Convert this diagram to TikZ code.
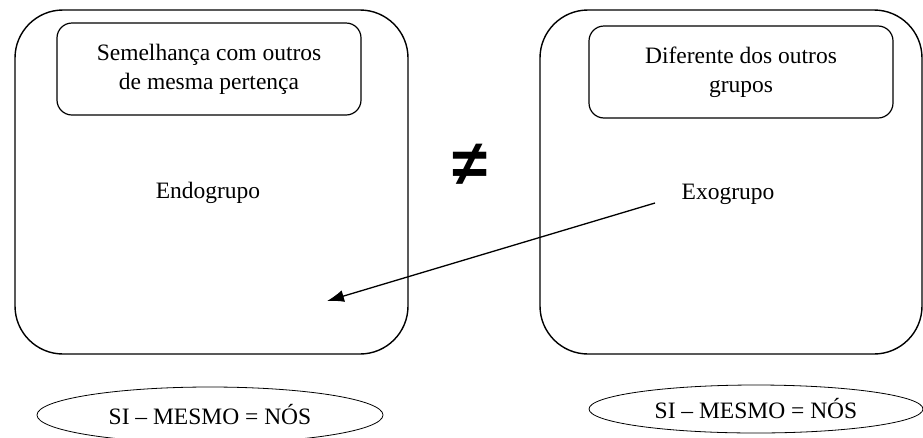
\documentclass[tikz,border=0pt]{standalone}
\usepackage{fontspec}
\setmainfont{Liberation Serif}
\newfontfamily\signfont{Liberation Sans}
\usetikzlibrary{shapes.geometric}
\usetikzlibrary {arrows.meta}

\begin{document}
\begin{tikzpicture}[x=1pt, y=-1pt,
        bigbox/.style={draw, line width=1.4pt, rounded corners=48pt, minimum height=344pt},
        topbox/.style={draw, line width=1.2pt, rounded corners=15pt, minimum width=304pt,
            minimum height=92pt, align=center, font=\fontsize{23.5}{29}\selectfont},
        oval/.style={draw, ellipse, line width=0.8pt, inner sep=0pt,
            font=\fontsize{23.5}{29}\selectfont},
        grouptext/.style={font=\fontsize{23.5}{29}\selectfont}]
        \useasboundingbox (0,0) rectangle (923,437);

        % Groups
        \draw (211.5,182) node[bigbox, minimum width=393pt] (endo) {};
        \draw (731,182) node[bigbox, minimum width=382pt] (exo) {};
        \draw (209,69) node[topbox] (endotop) {Semelhança com outros\\de mesma pertença};
        \draw (741,72) node[topbox] (exotop) {Diferente dos outros\\grupos};
        \draw (208,193) node[grouptext] (endoname) {Endogrupo};
        \draw (728,194) node[grouptext] (exoname) {Exogrupo};

        % Not equal
        \draw (470,165) node[font=\signfont\bfseries\fontsize{64}{64}\selectfont] (neq) {≠};

        % Arrow
        \coordinate (from) at (655,203);
        \coordinate (to) at (327,301);
        \draw[line width=1.3pt, -{Latex[length=17pt, width=12pt]}] (from) -- (to);

        % Self
        \draw (210,415) node[oval, minimum width=346pt, minimum height=56pt] (endoself) {SI – MESMO = NÓS};
        \draw (756,409) node[oval, minimum width=334pt, minimum height=48pt] (exoself) {SI – MESMO = NÓS};
    \end{tikzpicture}
\end{document}
